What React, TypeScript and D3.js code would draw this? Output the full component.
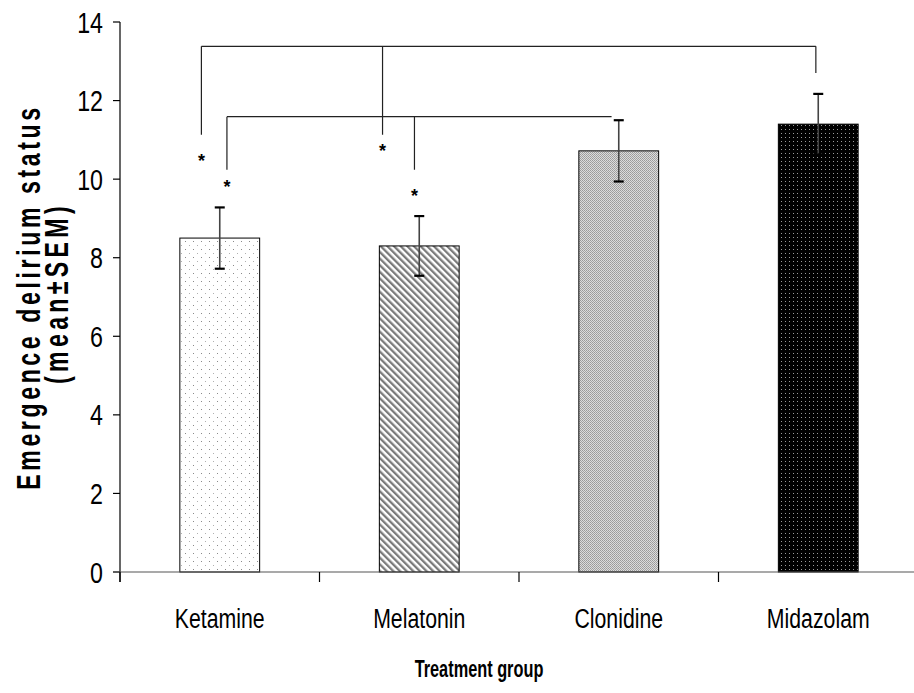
import React from 'react';
import * as d3 from 'd3';

const categories = ['Ketamine', 'Melatonin', 'Clonidine', 'Midazolam'];
const means = [8.5, 8.3, 10.72, 11.4];
const sems = [0.78, 0.76, 0.78, 0.77];
const yTicks = [0, 2, 4, 6, 8, 10, 12, 14];
const fills = ['url(#dots)', 'url(#stripes)', 'url(#grey)', 'url(#dark)'];

// significance brackets: x is a category plus an offset in bar widths, y in data units
const bracketTop = { y: 13.38, legs: [
  { cat: 'Ketamine', dx: -0.23, to: 11.13 },
  { cat: 'Melatonin', dx: -0.46, to: 11.13 },
  { cat: 'Midazolam', dx: -0.03, to: 12.7 },
] };
const bracketLow = { y: 11.59, end: { cat: 'Clonidine', dx: -0.09 }, legs: [
  { cat: 'Ketamine', dx: 0.09, to: 10.24 },
  { cat: 'Melatonin', dx: -0.06, to: 10.24 },
] };
const stars = [
  { cat: 'Ketamine', dx: -0.23, y: 10.57 },
  { cat: 'Melatonin', dx: -0.46, y: 10.82 },
  { cat: 'Ketamine', dx: 0.09, y: 9.91 },
  { cat: 'Melatonin', dx: -0.06, y: 9.68 },
];

const W = 914;
const H = 693;
// no narrow font installed, so text is squeezed horizontally with scale()
const font = '"Liberation Sans", Arial, sans-serif';

export default function App() {
  const x = d3.scaleBand<string>().domain(categories).range([120, 918]).paddingInner(0.6).paddingOuter(0.3);
  const y = d3.scaleLinear().domain([0, 14]).range([572, 22]);
  const bw = x.bandwidth();
  const cx = (cat: string, dx = 0) => (x(cat) as number) + bw / 2 + dx * bw;
  const bandEdges = categories.map(c => (x(c) as number) - x.step() * 0.3);

  const bracketPath = (b: any) => {
    const xs = b.legs.map((l: any) => cx(l.cat, l.dx));
    const xEnd = b.end ? cx(b.end.cat, b.end.dx) : d3.max(xs);
    let p = `M${d3.min(xs)},${y(b.y)}H${xEnd}`;
    b.legs.forEach((l: any) => { p += `M${cx(l.cat, l.dx)},${y(b.y)}V${y(l.to)}`; });
    return p;
  };

  return (
    <svg width={W} height={H} style={{ position: 'absolute', left: 0, top: 0, background: '#fff' }}>
      <defs>
        <pattern id="dots" width={8} height={8} patternUnits="userSpaceOnUse">
          <rect width={8} height={8} fill="#fff" />
          <rect x={1} y={1} width={1} height={1} fill="#8a8a8a" />
          <rect x={5} y={5} width={1} height={1} fill="#b0b0b0" />
        </pattern>
        <pattern id="stripes" width={4.7} height={10} patternUnits="userSpaceOnUse" patternTransform="rotate(-45)">
          <rect width={4.7} height={10} fill="#fff" />
          <rect width={2.3} height={10} fill="#7a7a7a" />
        </pattern>
        <pattern id="grey" width={2} height={2} patternUnits="userSpaceOnUse">
          <rect width={2} height={2} fill="#dcdcdc" />
          <rect width={1} height={1} fill="#9a9a9a" />
          <rect x={1} y={1} width={1} height={1} fill="#a4a4a4" />
        </pattern>
        <pattern id="dark" width={4} height={4} patternUnits="userSpaceOnUse">
          <rect width={4} height={4} fill="#000" />
          <rect x={1} y={1} width={1} height={1} fill="#9a9a9a" />
        </pattern>
      </defs>

      {/* bars */}
      {categories.map((c, i) => (
        <rect key={c} x={x(c)} y={y(means[i])} width={bw} height={y(0) - y(means[i])}
          fill={fills[i]} stroke="#000" strokeWidth={1} />
      ))}

      {/* error bars */}
      {categories.map((c, i) => (
        <g key={c}>
          <line x1={cx(c)} x2={cx(c)} y1={y(means[i] + sems[i])} y2={y(means[i] - sems[i])} stroke="#444" strokeWidth={1.6} />
          <line x1={cx(c) - 5} x2={cx(c) + 5} y1={y(means[i] + sems[i])} y2={y(means[i] + sems[i])} stroke="#000" strokeWidth={2.2} />
          <line x1={cx(c) - 5} x2={cx(c) + 5} y1={y(means[i] - sems[i])} y2={y(means[i] - sems[i])} stroke="#000" strokeWidth={2.2} />
        </g>
      ))}

      {/* brackets */}
      <path d={bracketPath(bracketTop)} fill="none" stroke="#222" strokeWidth={1.2} />
      <path d={bracketPath(bracketLow)} fill="none" stroke="#222" strokeWidth={1.2} />
      {stars.map((s, i) => (
        <text key={i} x={cx(s.cat, s.dx)} y={y(s.y) + 10} textAnchor="middle" fontSize={18}
          fontFamily={font} fontWeight="bold">*</text>
      ))}

      {/* y axis */}
      <line x1={120} x2={120} y1={y(14)} y2={582} stroke="#000" strokeWidth={1.2} />
      {yTicks.map(t => (
        <g key={t}>
          <line x1={113} x2={120} y1={y(t)} y2={y(t)} stroke="#000" strokeWidth={1.2} />
          <text transform={`translate(103,${y(t) + 10.5}) scale(0.8,1)`} textAnchor="end" fontSize={29} fontFamily={font}>{t}</text>
        </g>
      ))}

      {/* x axis */}
      <line x1={113} x2={W} y1={y(0)} y2={y(0)} stroke="#555" strokeWidth={1.2} />
      {bandEdges.map((e, i) => (
        <line key={i} x1={e} x2={e} y1={y(0)} y2={582} stroke="#000" strokeWidth={1.2} />
      ))}
      {categories.map(c => (
        <text key={c} transform={`translate(${cx(c)},628) scale(0.76,1)`} textAnchor="middle" fontSize={28} fontFamily={font}>{c}</text>
      ))}
      <text transform="translate(479,677) scale(0.68,1)" textAnchor="middle" fontSize={24} fontWeight="bold" fontFamily={font}>Treatment group</text>

      {/* y title */}
      <text transform="translate(40,297) rotate(-90) scale(0.68,1)" textAnchor="middle" fontSize={34} fontWeight="bold" letterSpacing={5.3} fontFamily={font}>Emergence delirium status</text>
      <text transform="translate(68,293) rotate(-90) scale(0.68,1)" textAnchor="middle" fontSize={34} fontWeight="bold" letterSpacing={6.4} fontFamily={font}>(mean±SEM)</text>
    </svg>
  );
}
